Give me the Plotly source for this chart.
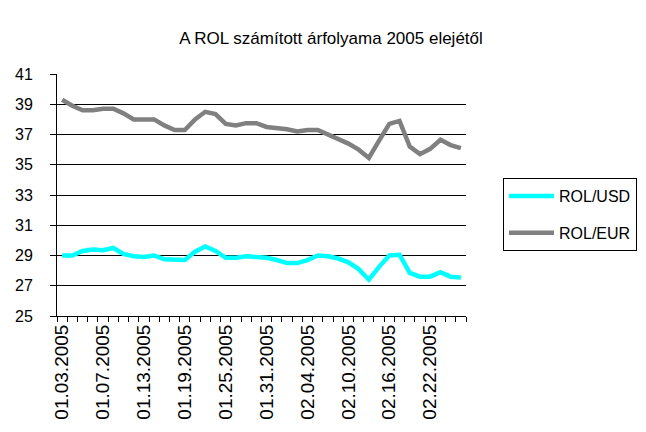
import plotly.graph_objects as go

dates = [
    "01.03.2005", "01.04.2005", "01.05.2005", "01.06.2005", "01.07.2005",
    "01.10.2005", "01.11.2005", "01.12.2005", "01.13.2005", "01.14.2005",
    "01.17.2005", "01.18.2005", "01.19.2005", "01.20.2005", "01.21.2005",
    "01.24.2005", "01.25.2005", "01.26.2005", "01.27.2005", "01.28.2005",
    "01.31.2005", "02.01.2005", "02.02.2005", "02.03.2005", "02.04.2005",
    "02.07.2005", "02.08.2005", "02.09.2005", "02.10.2005", "02.11.2005",
    "02.14.2005", "02.15.2005", "02.16.2005", "02.17.2005", "02.18.2005",
    "02.21.2005", "02.22.2005", "02.23.2005", "02.24.2005", "02.25.2005",
]

rol_usd = [
    29.0, 29.0, 29.3, 29.4, 29.35, 29.5, 29.1, 28.95, 28.9, 29.0,
    28.75, 28.7, 28.7, 29.25, 29.6, 29.3, 28.85, 28.85, 28.95, 28.9,
    28.85, 28.7, 28.5, 28.5, 28.7, 29.0, 28.95, 28.8, 28.55, 28.1,
    27.4, 28.25, 29.0, 29.05, 27.85, 27.6, 27.6, 27.9, 27.6, 27.55,
]

rol_eur = [
    39.3, 38.9, 38.6, 38.6, 38.7, 38.7, 38.4, 38.0, 38.0, 38.0,
    37.6, 37.3, 37.3, 38.0, 38.5, 38.35, 37.7, 37.6, 37.75, 37.75,
    37.5, 37.45, 37.35, 37.2, 37.3, 37.3, 37.0, 36.7, 36.4, 36.0,
    35.45, 36.6, 37.7, 37.9, 36.2, 35.7, 36.05, 36.65, 36.3, 36.1,
]

y_ticks = [25, 27, 29, 31, 33, 35, 37, 39, 41]
label_step = 4

title_text = "A ROL számított árfolyama 2005 elejétől"

x = list(range(len(dates)))
label_idx = x[::label_step]

fig = go.Figure()
fig.add_trace(go.Scatter(
    x=x, y=rol_usd, mode="lines", name="ROL/USD",
    line=dict(color="#00FFFF", width=4.5), legendgroup="usd",
))
fig.add_trace(go.Scatter(
    x=x, y=rol_eur, mode="lines", name="ROL/EUR",
    line=dict(color="#808080", width=4.5), legendgroup="eur",
))

font_family = "Liberation Sans, Arial, sans-serif"

fig.update_layout(
    width=646, height=432,
    margin=dict(l=49, r=188, t=66, b=124, autoexpand=False),
    paper_bgcolor="white", plot_bgcolor="white",
    font=dict(family=font_family, color="black"),
    title=dict(
        text=title_text, x=0.5, xref="container", xanchor="center",
        y=1 - 30 / 432, yref="container", yanchor="middle",
        font=dict(size=17, family=font_family, color="black"),
    ),
    showlegend=True,
    legend=dict(
        x=(495 - 49) / 409, y=(308 - 170) / 242,
        xanchor="left", yanchor="top",
        bordercolor="black", borderwidth=1, bgcolor="white",
        font=dict(size=16, family=font_family, color="black"),
        tracegroupgap=13, traceorder="grouped",
        itemwidth=45,
    ),
    xaxis=dict(
        range=[-0.5, len(dates) - 0.5],
        tickmode="array", tickvals=label_idx,
        ticktext=[dates[i] for i in label_idx],
        tickangle=-90, ticks="",
        tickfont=dict(size=19, family=font_family, color="black"),
        showline=True, linecolor="black", linewidth=1,
        showgrid=False, zeroline=False,
        minor=dict(ticks="outside", tick0=-0.5, dtick=1, ticklen=5,
                   tickcolor="black", tickwidth=1, showgrid=False),
    ),
    yaxis=dict(
        range=[25, 41], tickmode="array", tickvals=y_ticks,
        ticks="outside", ticklen=6, tickcolor="black",
        ticklabelstandoff=14,
        tickfont=dict(size=16, family=font_family, color="black"),
        showline=True, linecolor="black", linewidth=1,
        showgrid=True, gridcolor="black", gridwidth=1,
        zeroline=False,
    ),
)

fig.write_html("out.html")
